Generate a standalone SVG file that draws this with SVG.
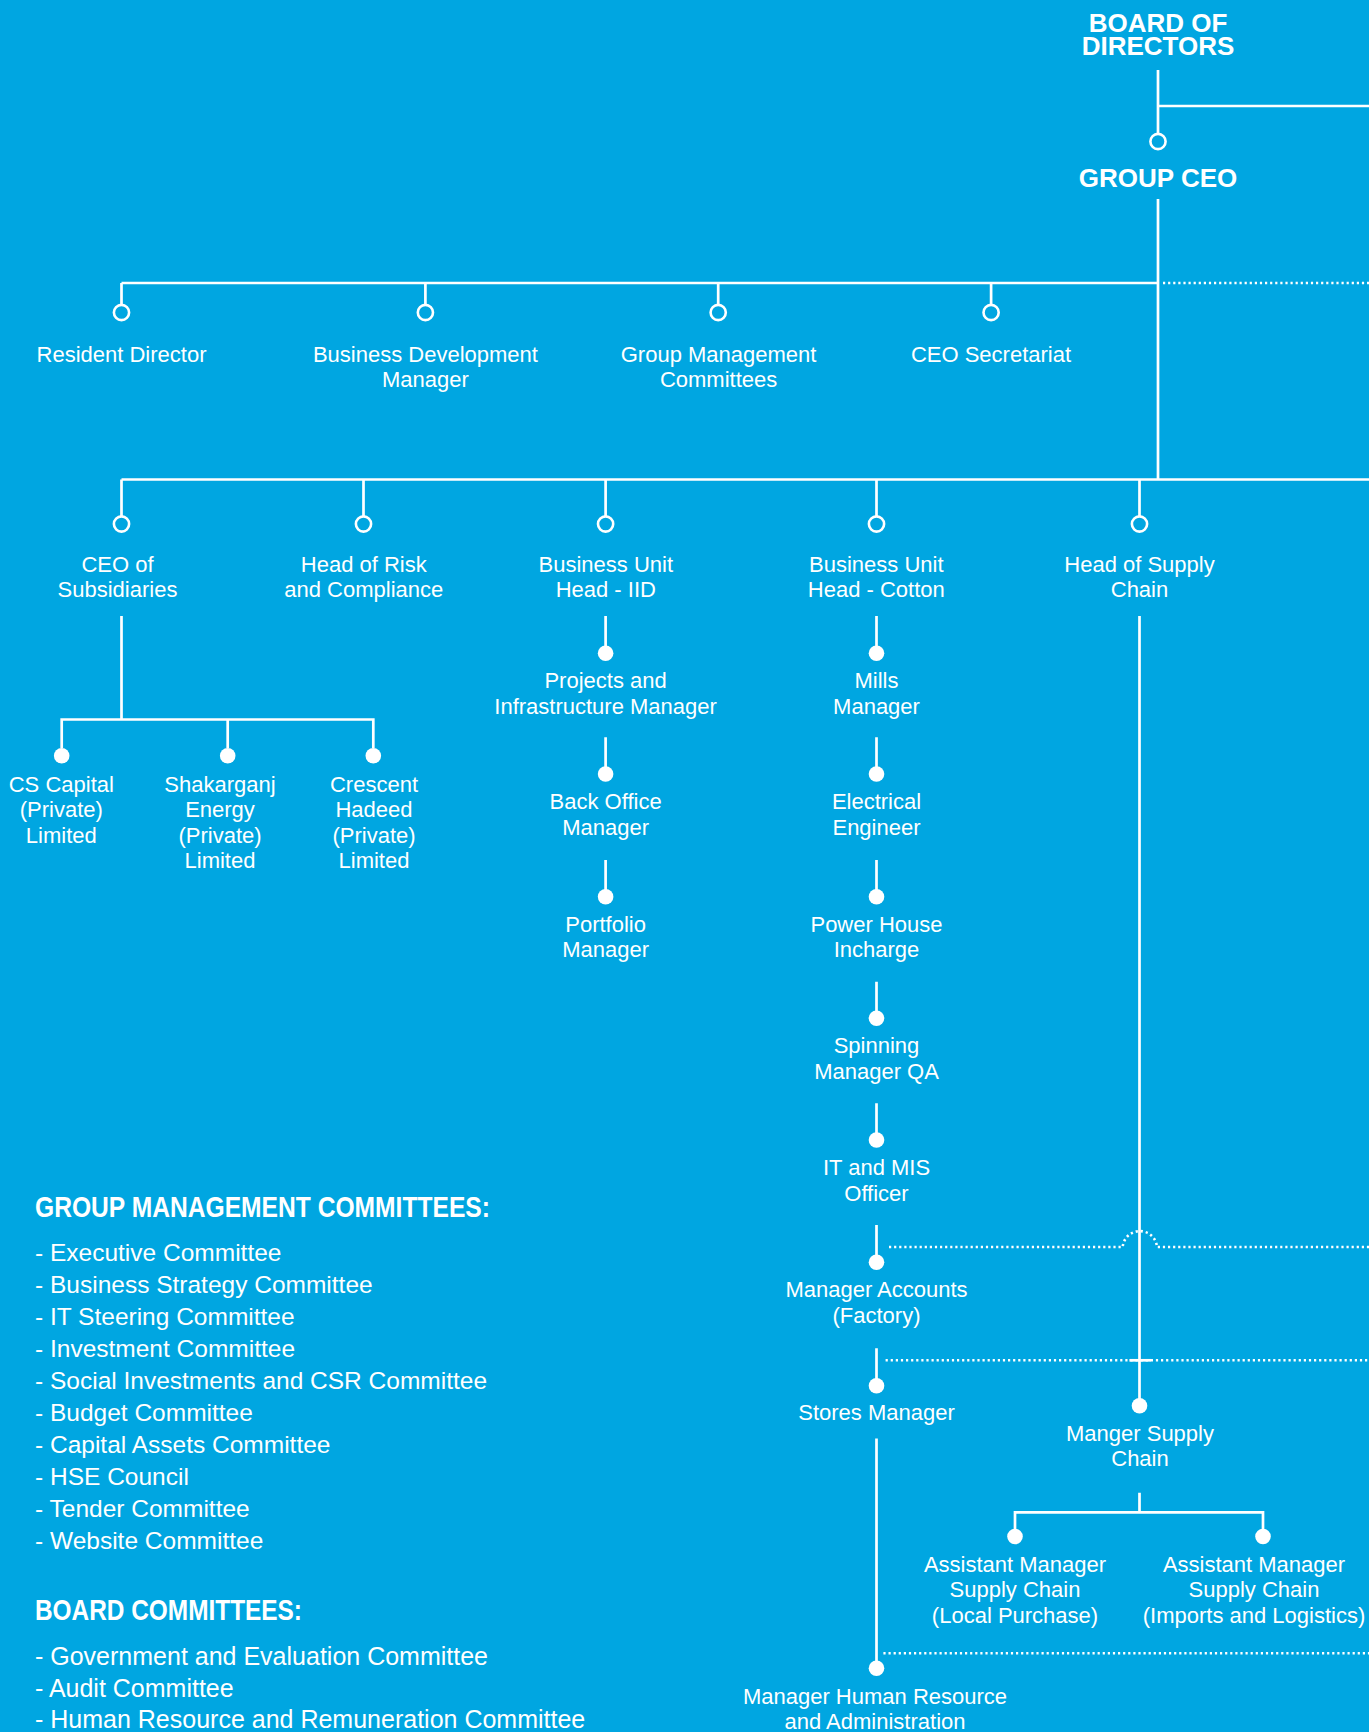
<svg xmlns="http://www.w3.org/2000/svg" width="1369" height="1732" viewBox="0 0 1369 1732">
<style>
.ln{stroke:#fff;stroke-width:2.7;fill:none}
.dt{stroke:#fff;stroke-width:2.6;fill:none;stroke-dasharray:2.2 2.9}
.hc{fill:none;stroke:#fff;stroke-width:2.6}
.fc{fill:#fff}
text{font-family:'Liberation Sans',Arial,sans-serif;fill:#fff}
.lb{font-size:22px;text-anchor:middle}
.tt{font-size:26px;font-weight:bold;text-anchor:middle}
.hd{font-size:30px;font-weight:bold}
.li{font-size:24.5px}
.bl{font-size:25px}
</style>
<rect width="1369" height="1732" fill="#00A6E1"/>
<g id="connectors">
<path class="ln" d="M1158 70V134M1158 106H1369M1158 199V479.5"/>
<path class="ln" d="M121.5 283H1158M121.5 283V305M425.4 283V305M718.2 283V305M991.1 283V305"/>
<path class="dt" d="M1163 283H1369"/>
<path class="ln" d="M121.5 479.5H1369M121.5 479.5V516.4M363.5 479.5V516.4M605.6 479.5V516.4M876.5 479.5V516.4M1139.5 479.5V516.4"/>
<path class="ln" d="M121.5 616V719.5M61.7 719.5H373.3M61.7 718.2V748M227.7 719.5V748M373.3 718.2V748"/>
<path class="ln" d="M605.6 616V653M605.6 737.3V774M605.6 860V896.7"/>
<path class="ln" d="M876.5 616V653M876.5 737.3V774M876.5 860V896.7M876.5 981.7V1018.3M876.5 1103.3V1140M876.5 1225V1262.3M876.5 1348.3V1385.7M876.5 1438.5V1668"/>
<path class="ln" d="M1139.5 616V1405.7"/>
<path class="ln" d="M1139.5 1492.7V1512.3M1015 1512.3H1263M1015 1511V1536M1263 1511V1536"/>
<path class="dt" d="M889 1247H1122.7A17.2 17.2 0 0 1 1157 1247H1369"/>
<path class="dt" d="M885.6 1360.3H1369"/>
<path class="ln" d="M1129.4 1360.3H1151"/>
<path class="dt" d="M883.4 1653.3H1369"/>
</g>
<g id="board"><text class="tt" x="1158" y="31.7">BOARD OF<tspan x="1158" y="55">DIRECTORS</tspan></text></g>
<g id="group-ceo"><circle class="hc" cx="1158" cy="141.5" r="7.6"/><text class="tt" x="1158" y="186.7">GROUP CEO</text></g>
<g id="resident-director"><circle class="hc" cx="121.5" cy="312.5" r="7.6"/><text class="lb" x="121.5" y="361.7">Resident Director</text></g>
<g id="business-development"><circle class="hc" cx="425.4" cy="312.5" r="7.6"/><text class="lb" x="425.4" y="361.7">Business Development</text><text class="lb" x="425.4" y="387.3">Manager</text></g>
<g id="group-management-committees"><circle class="hc" cx="718.2" cy="312.5" r="7.6"/><text class="lb" x="718.6" y="361.7">Group Management</text><text class="lb" x="718.6" y="387.3">Committees</text></g>
<g id="ceo-secretariat"><circle class="hc" cx="991.1" cy="312.5" r="7.6"/><text class="lb" x="991" y="361.7">CEO Secretariat</text></g>
<g id="ceo-subsidiaries"><circle class="hc" cx="121.5" cy="524" r="7.6"/><text class="lb" x="117.5" y="571.7">CEO of</text><text class="lb" x="117.5" y="597.3">Subsidiaries</text></g>
<g id="head-risk"><circle class="hc" cx="363.5" cy="524" r="7.6"/><text class="lb" x="363.8" y="571.7">Head of Risk</text><text class="lb" x="363.8" y="597.3">and Compliance</text></g>
<g id="bu-iid"><circle class="hc" cx="605.6" cy="524" r="7.6"/><text class="lb" x="605.8" y="571.7">Business Unit</text><text class="lb" x="605.8" y="597.3">Head - IID</text></g>
<g id="bu-cotton"><circle class="hc" cx="876.5" cy="524" r="7.6"/><text class="lb" x="876.3" y="571.7">Business Unit</text><text class="lb" x="876.3" y="597.3">Head - Cotton</text></g>
<g id="head-supply"><circle class="hc" cx="1139.5" cy="524" r="7.6"/><text class="lb" x="1139.5" y="571.7">Head of Supply</text><text class="lb" x="1139.5" y="597.3">Chain</text></g>
<g id="cs-capital"><circle class="fc" cx="61.7" cy="755.7" r="7.8"/><text class="lb" x="61.3" y="791.7">CS Capital</text><text class="lb" x="61.3" y="817.3">(Private)</text><text class="lb" x="61.3" y="842.7">Limited</text></g>
<g id="shakarganj"><circle class="fc" cx="227.7" cy="755.7" r="7.8"/><text class="lb" x="220" y="791.7">Shakarganj</text><text class="lb" x="220" y="817.3">Energy</text><text class="lb" x="220" y="842.7">(Private)</text><text class="lb" x="220" y="868">Limited</text></g>
<g id="crescent-hadeed"><circle class="fc" cx="373.3" cy="755.7" r="7.8"/><text class="lb" x="374" y="791.7">Crescent</text><text class="lb" x="374" y="817.3">Hadeed</text><text class="lb" x="374" y="842.7">(Private)</text><text class="lb" x="374" y="868">Limited</text></g>
<g id="projects-manager"><circle class="fc" cx="605.6" cy="653.3" r="7.8"/><text class="lb" x="605.6" y="688.3">Projects and</text><text class="lb" x="605.6" y="714">Infrastructure Manager</text></g>
<g id="back-office"><circle class="fc" cx="605.6" cy="774" r="7.8"/><text class="lb" x="605.6" y="809.3">Back Office</text><text class="lb" x="605.6" y="835">Manager</text></g>
<g id="portfolio"><circle class="fc" cx="605.6" cy="896.7" r="7.8"/><text class="lb" x="605.6" y="931.7">Portfolio</text><text class="lb" x="605.6" y="957.3">Manager</text></g>
<g id="mills-manager"><circle class="fc" cx="876.5" cy="653.3" r="7.8"/><text class="lb" x="876.5" y="688.3">Mills</text><text class="lb" x="876.5" y="714">Manager</text></g>
<g id="electrical"><circle class="fc" cx="876.5" cy="774" r="7.8"/><text class="lb" x="876.5" y="809.3">Electrical</text><text class="lb" x="876.5" y="835">Engineer</text></g>
<g id="power-house"><circle class="fc" cx="876.5" cy="896.7" r="7.8"/><text class="lb" x="876.5" y="931.7">Power House</text><text class="lb" x="876.5" y="957.3">Incharge</text></g>
<g id="spinning"><circle class="fc" cx="876.5" cy="1018.3" r="7.8"/><text class="lb" x="876.5" y="1053.3">Spinning</text><text class="lb" x="876.5" y="1079">Manager QA</text></g>
<g id="it-mis"><circle class="fc" cx="876.5" cy="1140" r="7.8"/><text class="lb" x="876.5" y="1175">IT and MIS</text><text class="lb" x="876.5" y="1200.6">Officer</text></g>
<g id="manager-accounts"><circle class="fc" cx="876.5" cy="1262.3" r="7.8"/><text class="lb" x="876.5" y="1297">Manager Accounts</text><text class="lb" x="876.5" y="1322.5">(Factory)</text></g>
<g id="stores-manager"><circle class="fc" cx="876.5" cy="1385.7" r="7.8"/><text class="lb" x="876.5" y="1420">Stores Manager</text></g>
<g id="manager-hr"><circle class="fc" cx="876.5" cy="1668.3" r="7.8"/><text class="lb" x="875" y="1704">Manager Human Resource</text><text class="lb" x="875" y="1729">and Administration</text></g>
<g id="manager-supply"><circle class="fc" cx="1139.5" cy="1405.7" r="7.8"/><text class="lb" x="1140" y="1440.7">Manger Supply</text><text class="lb" x="1140" y="1466.3">Chain</text></g>
<g id="asst-local"><circle class="fc" cx="1015" cy="1536.5" r="7.8"/><text class="lb" x="1015" y="1571.7">Assistant Manager</text><text class="lb" x="1015" y="1597.3">Supply Chain</text><text class="lb" x="1015" y="1622.9">(Local Purchase)</text></g>
<g id="asst-imports"><circle class="fc" cx="1263" cy="1536.5" r="7.8"/><text class="lb" x="1254" y="1571.7">Assistant Manager</text><text class="lb" x="1254" y="1597.3">Supply Chain</text><text class="lb" x="1254" y="1622.9">(Imports and Logistics)</text></g>
<g id="group-committees-list">
<text class="hd" x="35" y="1217" textLength="455" lengthAdjust="spacingAndGlyphs">GROUP MANAGEMENT COMMITTEES:</text>
<text class="li" x="35" y="1261">- Executive Committee</text>
<text class="li" x="35" y="1293">- Business Strategy Committee</text>
<text class="li" x="35" y="1325">- IT Steering Committee</text>
<text class="li" x="35" y="1357">- Investment Committee</text>
<text class="li" x="35" y="1389">- Social Investments and CSR Committee</text>
<text class="li" x="35" y="1421">- Budget Committee</text>
<text class="li" x="35" y="1453">- Capital Assets Committee</text>
<text class="li" x="35" y="1485">- HSE Council</text>
<text class="li" x="35" y="1517">- Tender Committee</text>
<text class="li" x="35" y="1549">- Website Committee</text>
</g>
<g id="board-committees-list">
<text class="hd" x="35" y="1620" textLength="267" lengthAdjust="spacingAndGlyphs">BOARD COMMITTEES:</text>
<text class="bl" x="35" y="1665">- Government and Evaluation Committee</text>
<text class="bl" x="35" y="1697">- Audit Committee</text>
<text class="bl" x="35" y="1728">- Human Resource and Remuneration Committee</text>
</g>
</svg>
